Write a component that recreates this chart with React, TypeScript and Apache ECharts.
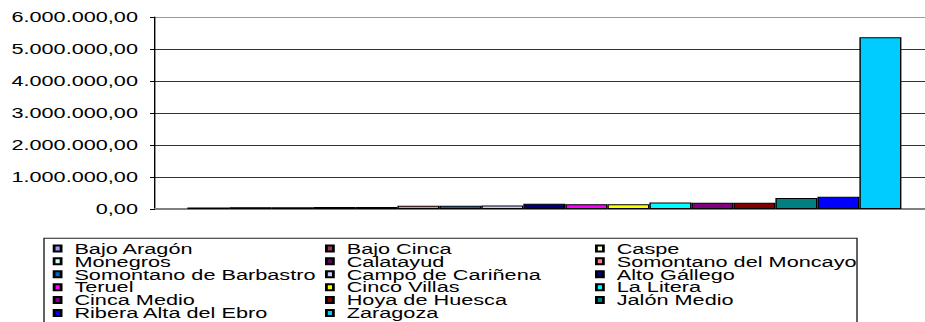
import React, { useEffect, useRef } from "react";
import * as echarts from "echarts";

const regions = [
  "Bajo Aragón",
  "Bajo Cinca",
  "Caspe",
  "Monegros",
  "Calatayud",
  "Somontano del Moncayo",
  "Somontano de Barbastro",
  "Campo de Cariñena",
  "Alto Gállego",
  "Teruel",
  "Cinco Villas",
  "La Litera",
  "Cinca Medio",
  "Hoya de Huesca",
  "Jalón Medio",
  "Ribera Alta del Ebro",
  "Zaragoza",
];

const values = [
  50000, 54000, 57000, 60000, 62000, 100000, 105000, 110000, 165000, 150000,
  150000, 205000, 195000, 195000, 345000, 385000, 5370000,
];

const colors = [
  "#9999FF", "#993366", "#FFFFCC", "#CCFFFF", "#660066", "#FF8080",
  "#0066CC", "#CCCCFF", "#000080", "#FF00FF", "#FFFF00", "#00FFFF",
  "#800080", "#800000", "#008080", "#0000FF", "#00CCFF",
];

const yTicks = [0, 1000000, 2000000, 3000000, 4000000, 5000000, 6000000];

const K = 1.4; // horizontal stretch of the reference
const FONT = "Arial, 'Liberation Sans', sans-serif";
const LEGEND_FS = 15.5;
const ROW = 12.8;

function fmt(v: number): string {
  const s = Math.round(v).toString();
  const withDots = s.replace(/\B(?=(\d{3})+(?!\d))/g, ".");
  return withDots + ",00";
}

export default function App() {
  const ref = useRef<HTMLDivElement>(null);
  useEffect(() => {
    if (!ref.current) return;
    const chart = echarts.init(ref.current, null, { renderer: "svg" });
    const col = (c: number) => regions.filter((_, i) => i % 3 === c);
    const legendBase = {
      orient: "vertical" as const,
      top: 248.2 - LEGEND_FS / 2,
      height: 200,
      padding: 0,
      itemGap: ROW - LEGEND_FS - 0.4,
      itemWidth: 5,
      itemHeight: 6,
      icon: "rect",
      selectedMode: false,
      textStyle: {
        fontFamily: FONT,
        fontSize: LEGEND_FS,
        color: "#000",
        padding: [0, 0, 0, 4.5],
      },
    };
    chart.setOption({
      animation: false,
      backgroundColor: "#fff",
      grid: { left: 155 / K, right: 0, top: 17, bottom: 322 - 209 },
      xAxis: {
        type: "category",
        data: [""],
        axisLine: { lineStyle: { color: "#808080", width: 2 } },
        axisTick: { show: false },
        axisLabel: { show: false },
      },
      yAxis: {
        type: "value",
        min: 0,
        max: yTicks[yTicks.length - 1],
        interval: 1000000,
        axisLine: { show: true, lineStyle: { color: "#000", width: 1 } },
        axisTick: { show: true, length: 5 / K, lineStyle: { color: "#000" } },
        axisLabel: {
          formatter: (v: number) => fmt(v),
          fontFamily: FONT,
          fontSize: 15.5,
          color: "#000",
          margin: (155 - 138) / K,
        },
        splitLine: {
          show: true,
          lineStyle: {
            color: ["#808080", "#333", "#333", "#333", "#333", "#333", "#999"],
            width: 1,
          },
        },
      },
      legend: [
        { ...legendBase, left: 52.7 / K, data: col(0) },
        { ...legendBase, left: 325 / K, data: col(1) },
        { ...legendBase, left: 595 / K, data: col(2) },
      ],
      graphic: [
        {
          type: "rect",
          shape: { x: 44 / K, y: 238.3, width: (857 - 44) / K, height: 100 },
          style: { fill: "none", stroke: "#222", lineWidth: 1 },
          silent: true,
          z: -1,
        },
      ],
      series: regions.map((name, i) => ({
        type: "bar",
        name,
        data: [values[i]],
        barWidth: 42 / K,
        barGap: "0%",
        itemStyle: { color: colors[i], borderColor: "#000", borderWidth: 1 },
      })),
    });
    return () => chart.dispose();
  }, []);
  return (
    <div
      style={{
        position: "absolute",
        left: 0,
        top: 0,
        width: 925,
        height: 322,
        overflow: "hidden",
        background: "#fff",
      }}
    >
      <div
        ref={ref}
        style={{
          width: 667,
          height: 322,
          transform: `scaleX(${K})`,
          transformOrigin: "0 0",
        }}
      />
    </div>
  );
}
